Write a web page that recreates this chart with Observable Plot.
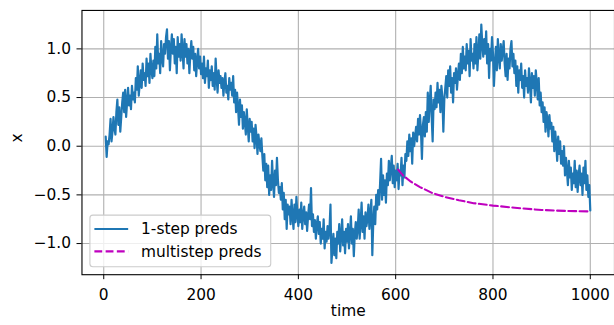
<!DOCTYPE html>
<html><head><meta charset="utf-8">
<script src="https://cdn.jsdelivr.net/npm/d3@7"></script>
<script src="https://cdn.jsdelivr.net/npm/@observablehq/plot@0.6"></script>
<style>html,body{margin:0;padding:0;background:#fff;overflow:hidden;width:614px;height:325px}</style>
</head><body><div id="chart"></div>
<script>
// 1-step predictions, read every 2 time steps, ending at t=1000
const onestepEnd = 1000, onestepStep = 2;
const onestepValues = [
  0.10, -0.11, 0.05, 0.02, 0.12, 0.28, 0.05, 0.15, 0.30,
  0.18, 0.12, 0.35, 0.48, 0.22, 0.40, 0.15, 0.30, 0.45, 0.55,
  0.35, 0.58, 0.30, 0.45, 0.60, 0.42, 0.52, 0.38, 0.62, 0.48,
  0.55, 0.45, 0.70, 0.58, 0.82, 0.52, 0.65, 0.78, 0.60, 0.85,
  0.68, 0.75, 0.62, 0.90, 0.72, 0.85, 0.65, 0.95, 0.78, 0.70,
  0.88, 0.72, 1.02, 0.80, 1.15, 0.85, 0.95, 0.75, 1.08, 0.90,
  0.82, 1.05, 0.95, 1.12, 1.20, 0.90, 1.08, 0.78, 1.00, 1.15,
  0.95, 1.10, 0.85, 1.02, 0.75, 1.12, 0.92, 1.05, 0.88, 1.15,
  0.98, 0.80, 1.10, 0.92, 1.05, 0.85, 1.00, 0.75, 0.95, 1.08,
  0.90, 1.02, 0.78, 0.95, 0.72, 0.88, 1.00, 0.80, 0.92, 0.74,
  0.85, 0.70, 0.92, 0.65, 0.80, 0.72, 0.88, 0.60, 0.78, 0.68,
  0.82, 0.62, 0.75, 0.58, 0.90, 0.70, 0.55, 0.78, 0.65, 0.72,
  0.60, 0.70, 0.52, 0.66, 0.75, 0.55, 0.62, 0.48, 0.70, 0.58,
  0.65, 0.52, 0.72, 0.45, 0.58, 0.35, 0.55, 0.40, 0.22, 0.48,
  0.30, 0.42, 0.18, 0.35, 0.25, 0.12, 0.38, 0.20, 0.05, 0.28,
  0.15, 0.25, 0.05, 0.18, -0.02, 0.22, 0.10, -0.08, 0.12, 0.02,
  -0.05, 0.08, -0.10, -0.25, -0.08, -0.35, -0.18, -0.42, -0.20, -0.50,
  -0.30, -0.45, -0.15, -0.38, -0.52, -0.25, -0.40, -0.12, -0.35, -0.48,
  -0.42, -0.55, -0.38, -0.65, -0.48, -0.75, -0.55, -0.85, -0.60, -0.70,
  -0.62, -0.80, -0.55, -0.72, -0.85, -0.60, -0.78, -0.52, -0.70, -0.82,
  -0.65, -0.78, -0.58, -0.85, -0.70, -0.62, -0.80, -0.68, -0.87, -0.72,
  -0.60, -0.75, -0.43, -0.82, -0.70, -0.88, -0.76, -0.95, -0.80, -0.72,
  -0.90, -0.78, -1.00, -0.85, -0.95, -0.75, -1.05, -0.88, -0.98, -0.82,
  -0.95, -0.85, -0.60, -1.20, -1.05, -0.90, -1.12, -0.95, -1.15, -0.88,
  -1.00, -0.80, -1.08, -0.92, -0.75, -1.02, -0.88, -1.10, -0.85, -0.98,
  -0.80, -1.05, -0.90, -0.72, -1.00, -0.85, -1.13, -0.90, -0.78, -0.95,
  -0.85, -0.65, -0.95, -0.78, -0.58, -0.88, -0.72, -0.95, -0.68, -0.82,
  -0.75, -0.60, -0.85, -0.70, -0.55, -1.12, -0.78, -0.62, -0.80, -0.50,
  -0.65, -0.45, -0.60, -0.38, -0.13, -0.55, -0.30, -0.50, -0.35, -0.58,
  -0.28, -0.40, -0.15, -0.35, -0.22, -0.10, -0.38, -0.20, -0.42, -0.25,
  -0.35, -0.18, -0.44, -0.25, -0.30, -0.12, -0.40, -0.20, -0.32, -0.08,
  -0.15, 0.05, -0.10, 0.12, -0.05, 0.08, -0.18, 0.14, 0.00, 0.10,
  0.20, 0.05, 0.28, 0.12, 0.32, 0.15, -0.13, 0.22, 0.30, 0.10,
  0.35, 0.15, 0.55, 0.25, 0.45, 0.62, 0.30, 0.05, 0.48, 0.38,
  0.55, 0.40, 0.65, 0.45, 0.58, 0.35, 0.62, 0.50, 0.15, 0.48,
  0.60, 0.72, 0.50, 0.78, 0.62, 0.82, 0.55, 0.70, 0.45, 0.75,
  0.65, 0.80, 0.58, 0.72, 0.85, 0.68, 0.95, 0.75, 1.02, 0.80,
  0.92, 0.78, 1.05, 0.85, 0.98, 0.72, 1.10, 0.88, 0.95, 0.80,
  1.05, 0.85, 1.12, 0.78, 0.95, 1.15, 0.90, 1.25, 1.05, 0.92,
  1.10, 0.95, 1.18, 0.85, 1.05, 0.70, 1.00, 0.88, 1.12, 0.95,
  0.62, 0.85, 1.02, 0.78, 1.10, 0.92, 0.80, 1.05, 0.88, 0.98,
  1.08, 0.85, 0.72, 0.95, 0.68, 0.90, 0.80, 1.00, 1.08, 0.82,
  0.95, 0.75, 0.88, 0.62, 0.82, 0.55, 0.78, 0.68, 0.85, 0.60,
  0.72, 0.50, 0.78, 0.62, 0.70, 0.55, 0.80, 0.65, 0.45, 0.75,
  0.60, 0.72, 0.52, 0.78, 0.65, 0.48, 0.70, 0.42, 0.55, 0.35,
  0.45, 0.25, 0.40, 0.15, 0.35, 0.28, 0.10, 0.32, 0.18, 0.24,
  0.05, 0.20, -0.05, 0.15, 0.02, -0.15, 0.10, -0.08, 0.05, -0.18,
  -0.05, -0.20, 0.00, -0.30, -0.12, -0.25, -0.40, -0.15, -0.32, -0.22,
  -0.45, -0.28, -0.38, -0.15, -0.42, -0.25, -0.47, -0.30, -0.20, -0.40,
  -0.28, -0.50, -0.22, -0.38, -0.15, -0.45, -0.30, -0.52, -0.40, -0.66
];
// multistep predictions
const multistepTimes = [605, 615, 630, 650, 675, 700, 730, 760, 800, 850, 900, 950, 1000];
const multistepValues = [-0.24, -0.30, -0.36, -0.42, -0.48, -0.52, -0.555, -0.585, -0.61, -0.635, -0.655, -0.665, -0.67];

const xTicks = [0, 200, 400, 600, 800, 1000];
const yTicks = [-1.0, -0.5, 0.0, 0.5, 1.0];
const seriesNames = ["1-step preds", "multistep preds"];
const seriesColors = ["#1f77b4", "#bf00bf"];
const xLabel = "time", yLabel = "x";

const n = onestepValues.length;
const onestep = onestepValues.map((v, i) => ({t: onestepEnd - (n - 1 - i) * onestepStep, v}));
const multi = multistepTimes.map((t, i) => ({t, v: multistepValues[i]}));

const FS = 15.5;
const gridStyle = {stroke: "#b0b0b0", strokeOpacity: 1, strokeWidth: 1.1};
const svg = Plot.plot({
  width: 618, height: 325,
  marginLeft: 82, marginRight: 0, marginTop: 10, marginBottom: 49,
  x: {domain: [-44.75, 1049.75]},
  y: {domain: [-1.32, 1.395]},
  style: {fontFamily: "DejaVu Sans", fontSize: FS + "px", background: "white", color: "black"},
  marks: [
    Plot.gridX(xTicks, gridStyle),
    Plot.gridY(yTicks, gridStyle),
    Plot.line(onestep, {x: "t", y: "v", stroke: seriesColors[0], strokeWidth: 2.2}),
    Plot.line(multi, {x: "t", y: "v", stroke: seriesColors[1], strokeWidth: 2.1, strokeDasharray: "7.9,3.4"}),
    Plot.frame({stroke: "black", strokeWidth: 1.1}),
    Plot.axisX(xTicks, {tickSize: 5, tickPadding: 9, label: null, fontSize: FS, tickFormat: d => String(d)}),
    Plot.axisY(yTicks, {tickSize: 5, tickPadding: 6, label: null, fontSize: FS, tickFormat: d3.format(".1f")}),
    Plot.text([xLabel], {text: d => d, frameAnchor: "bottom", dy: 42, fontSize: FS}),
    Plot.text([yLabel], {text: d => d, frameAnchor: "left", dx: -65, rotate: -90, fontSize: FS})
  ]
});
svg.style.overflow = "hidden";

// legend (matplotlib style, lower left inside axes)
const lg = d3.select(svg).append("g").attr("font-family", "DejaVu Sans").attr("font-size", FS).attr("text-anchor", "start");
lg.append("rect").attr("x", 90.5).attr("y", 216.5).attr("width", 182).attr("height", 52)
  .attr("rx", 3).attr("fill", "white").attr("fill-opacity", 0.8).attr("stroke", "#cccccc").attr("stroke-width", 1.1);
seriesNames.forEach((name, i) => {
  const y = 230.5 + i * 22.5;
  lg.append("line").attr("x1", 95).attr("x2", 129).attr("y1", y).attr("y2", y)
    .attr("stroke", seriesColors[i]).attr("stroke-width", 2.1)
    .attr("stroke-dasharray", i === 1 ? "7.9,3.4" : null);
  lg.append("text").attr("x", 142).attr("y", y).attr("dy", "0.35em").attr("fill", "black").text(name);
});

document.getElementById("chart").appendChild(svg);
</script>
</body></html>
